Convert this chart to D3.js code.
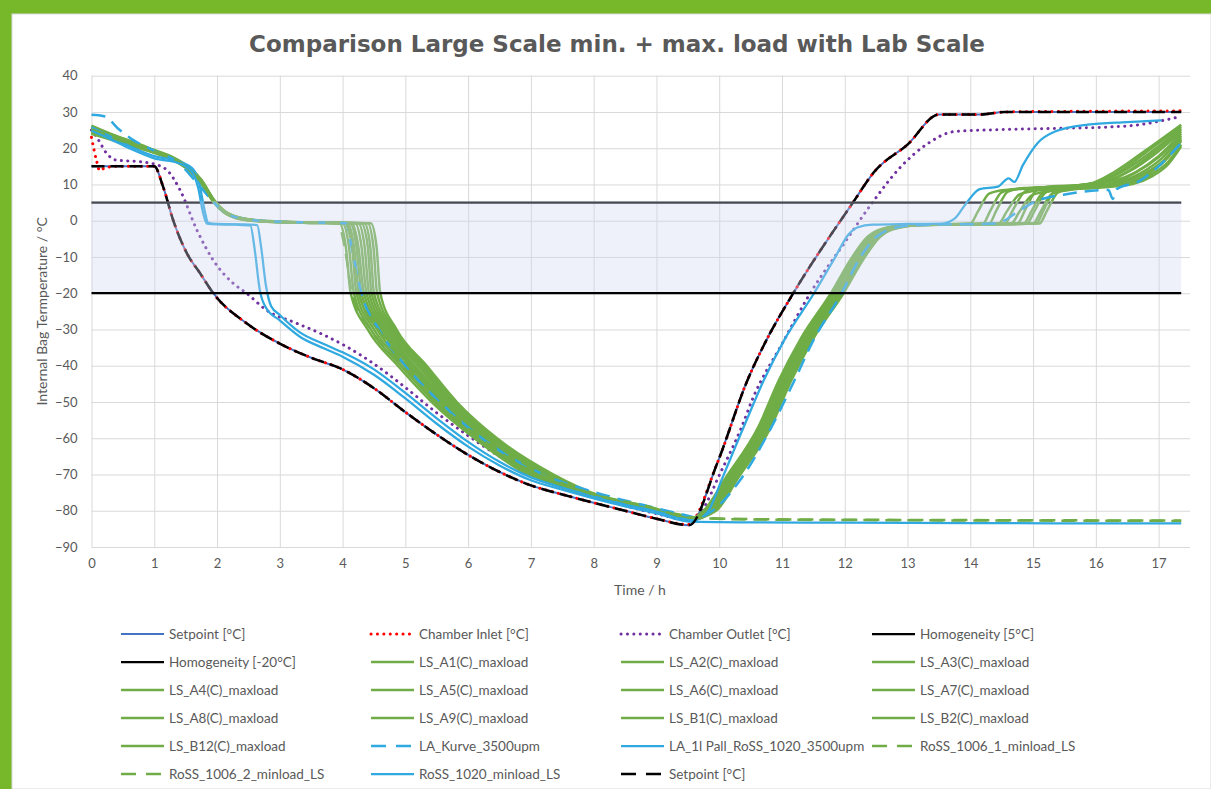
<!DOCTYPE html>
<html>
<head>
<meta charset="utf-8">
<script src="https://cdn.jsdelivr.net/npm/d3@7"></script>
<style>
  body { margin: 0; background: #76b82a; }
  svg { display: block; }
  text { font-family: Lato, "Open Sans", sans-serif; fill: #595959; }
</style>
</head>
<body>
<svg id="chart" width="1211" height="789"></svg>
<script>
// tick values
const xTicks = d3.range(0, 18);
const yTicks = d3.range(-90, 41, 10);

// time [h], temperature [°C]
const setpoint = [[0,15],[1.0,15],[1.14,9.4],[1.3,0.2],[1.52,-9],[1.73,-14.5],[1.94,-20],[2.47,-28.3],[3.0,-33.9],[3.5,-37.8],[4.0,-41],[4.5,-46.2],[5.0,-52.8],[5.5,-59],[6.0,-64.6],[6.5,-69.3],[7.0,-73],[7.5,-75.5],[8.0,-77.8],[8.5,-80],[9.0,-82.2],[9.52,-84],[9.97,-66.8],[10.45,-44],[10.75,-33],[11.18,-20],[12.13,5],[12.47,13.5],[13.0,21],[13.5,29.3],[14.15,29.3],[14.55,30],[16.0,30],[17.36,30]];
const chamberInlet = [[0,23],[0.08,16.6],[0.13,13.8],[0.18,14.3],[0.4,15],[1.0,15],[1.14,9.4],[1.3,0.2],[1.52,-9],[1.73,-14.5],[1.94,-20],[2.47,-28.3],[3.0,-33.9],[3.5,-37.8],[4.0,-41],[4.5,-46.2],[5.0,-52.8],[5.5,-59],[6.0,-64.6],[6.5,-69.3],[7.0,-73],[7.5,-75.5],[8.0,-77.8],[8.5,-80],[9.0,-82.2],[9.5,-83.8],[9.97,-66.8],[10.45,-44],[10.75,-33],[11.18,-20],[12.13,5],[12.47,13.5],[13.0,21],[13.5,29.3],[14.15,29.3],[14.55,30],[16.0,30.2],[17.36,30.3]];
const chamberOutlet = [[0,25],[0.11,22.3],[0.24,18.6],[0.4,16.7],[0.77,16.3],[1.09,15.1],[1.2,14],[1.41,8.5],[1.68,-2.6],[1.94,-10.9],[2.26,-17.3],[2.47,-20],[2.79,-24.7],[3.27,-28.3],[3.7,-31.5],[4.07,-34.8],[4.5,-39.5],[5.0,-46],[5.5,-53],[6.0,-59.3],[6.5,-65],[7.0,-69.5],[7.5,-73],[8.0,-76],[8.5,-78.6],[9.0,-80.8],[9.5,-82.5],[9.7,-80.5],[10.02,-69.5],[10.34,-57.6],[10.55,-48.4],[11.0,-34],[11.45,-20],[12.0,-6],[12.44,5],[12.9,15],[13.3,21],[13.75,24.6],[14.44,25.1],[15.5,25.5],[16.15,25.8],[16.7,26.5],[17.0,27.4],[17.36,28.8]];
const homog5 = [[0,5],[17.36,5]];
const homogMinus20 = [[0,-20],[17.36,-20]];

const lsA1 = [[0,25.5],[0.3,23.6],[0.7,21.2],[1.0,19.3],[1.3,17.3],[1.55,14.6],[1.75,11.0],[1.95,5.6],[2.1,2.8],[2.35,0.8],[2.8,-0.2],[3.5,-0.5],[3.95,-0.7],[4.05,-7],[4.13,-20],[4.40,-30],[4.88,-40],[5.42,-50],[6.10,-60],[6.95,-70],[7.8,-75.2],[8.8,-79.2],[9.5,-81.6],[9.58,-82],[9.75,-80],[10.1,-71],[10.62,-57],[10.95,-44],[11.3,-32.5],[11.78,-20],[12.12,-10],[12.36,-4.5],[12.6,-2.2],[13.0,-1.2],[14.0,-0.8],[14.12,2.5],[14.3,7.5],[14.55,8.5],[15.2,9.0],[15.9,10.2],[16.3,13.5],[16.8,19.5],[17.36,26.5]];
const lsA2 = [[0,25.0],[0.3,23.2],[0.7,20.9],[1.0,19.1],[1.3,17.0],[1.55,14.3],[1.75,10.6],[1.95,5.3],[2.1,2.6],[2.35,0.7],[2.8,-0.2],[3.5,-0.5],[4.0,-0.7],[4.1,-7],[4.18,-20],[4.45,-30],[4.93,-40],[5.47,-50],[6.15,-60],[7.0,-70],[7.85,-75.4],[8.85,-79.3],[9.5,-81.7],[9.6,-82],[9.78,-80],[10.13,-71],[10.65,-57],[10.98,-44],[11.33,-32.5],[11.81,-20],[12.15,-10],[12.39,-4.5],[12.63,-2.2],[13.05,-1.2],[14.2,-0.8],[14.32,2.8],[14.5,7.8],[14.75,8.8],[15.4,9.3],[16.0,10.5],[16.4,13.8],[16.85,19.5],[17.36,26]];
const lsA3 = [[0,26.0],[0.3,23.9],[0.7,21.4],[1.0,19.4],[1.3,17.4],[1.55,14.7],[1.75,11.2],[1.95,5.7],[2.1,2.9],[2.35,0.9],[2.8,-0.1],[3.5,-0.5],[4.05,-0.7],[4.15,-7],[4.22,-20],[4.50,-30],[4.98,-40],[5.50,-50],[6.18,-60],[7.05,-70],[7.9,-75.5],[8.9,-79.4],[9.5,-81.7],[9.6,-82],[9.8,-80],[10.15,-71],[10.67,-57],[11.0,-44],[11.35,-32.5],[11.83,-20],[12.17,-10],[12.41,-4.5],[12.65,-2.2],[13.05,-1.2],[14.3,-0.8],[14.42,3],[14.6,8],[14.85,9.0],[15.5,9.5],[16.05,10.6],[16.45,13.8],[16.9,19.2],[17.36,25.5]];
const lsA4 = [[0,24.5],[0.3,22.8],[0.7,20.6],[1.0,18.9],[1.3,16.9],[1.55,14.1],[1.75,10.4],[1.95,5.2],[2.1,2.5],[2.35,0.6],[2.8,-0.3],[3.5,-0.6],[4.08,-0.7],[4.18,-7],[4.26,-20],[4.55,-30],[5.02,-40],[5.55,-50],[6.22,-60],[7.08,-70],[7.92,-75.5],[8.9,-79.4],[9.5,-81.8],[9.6,-82],[9.81,-80],[10.16,-71],[10.68,-57],[11.01,-44],[11.36,-32.5],[11.84,-20],[12.18,-10],[12.42,-4.5],[12.66,-2.2],[13.1,-1.2],[14.45,-0.8],[14.58,2.5],[14.78,7.2],[15.0,8.2],[15.6,9.0],[16.1,10.2],[16.5,13.5],[16.92,18.8],[17.36,25]];
const lsA5 = [[0,25.8],[0.3,23.8],[0.7,21.3],[1.0,19.3],[1.3,17.2],[1.55,14.5],[1.75,10.9],[1.95,5.5],[2.1,2.8],[2.35,0.8],[2.8,-0.2],[3.5,-0.5],[4.12,-0.7],[4.22,-7],[4.30,-20],[4.60,-30],[5.07,-40],[5.58,-50],[6.25,-60],[7.12,-70],[7.95,-75.6],[8.92,-79.5],[9.5,-81.8],[9.6,-82],[9.83,-80],[10.18,-71],[10.7,-57],[11.03,-44],[11.38,-32.5],[11.86,-20],[12.2,-10],[12.44,-4.5],[12.68,-2.2],[13.1,-1.2],[14.55,-0.8],[14.68,3],[14.88,8.2],[15.1,9.2],[15.65,9.6],[16.15,10.8],[16.55,13.8],[16.95,18.5],[17.36,24.5]];
const lsA6 = [[0,24.2],[0.3,22.6],[0.7,20.5],[1.0,18.8],[1.3,16.8],[1.55,14.0],[1.75,10.3],[1.95,5.1],[2.1,2.5],[2.35,0.6],[2.8,-0.3],[3.5,-0.6],[4.15,-0.7],[4.25,-7],[4.34,-20],[4.64,-30],[5.11,-40],[5.62,-50],[6.28,-60],[7.15,-70],[7.98,-75.6],[8.95,-79.5],[9.5,-81.9],[9.6,-82],[9.85,-80],[10.2,-71],[10.72,-57],[11.05,-44],[11.4,-32.5],[11.88,-20],[12.22,-10],[12.46,-4.5],[12.7,-2.2],[13.1,-1.2],[14.65,-0.8],[14.78,2.4],[14.98,7],[15.2,8.0],[15.7,8.9],[16.2,10.0],[16.6,13],[17.0,17.8],[17.36,24]];
const lsA7 = [[0,25.2],[0.3,23.3],[0.7,21.0],[1.0,19.2],[1.3,17.1],[1.55,14.4],[1.75,10.7],[1.95,5.4],[2.1,2.7],[2.35,0.7],[2.8,-0.2],[3.5,-0.5],[4.2,-0.7],[4.3,-7],[4.38,-20],[4.68,-30],[5.15,-40],[5.66,-50],[6.32,-60],[7.2,-70],[8.0,-75.7],[8.97,-79.6],[9.5,-81.9],[9.6,-82],[9.86,-80],[10.21,-71],[10.73,-57],[11.06,-44],[11.41,-32.5],[11.89,-20],[12.23,-10],[12.47,-4.5],[12.71,-2.2],[13.15,-1.2],[14.75,-0.8],[14.88,3.2],[15.06,8.5],[15.3,9.5],[15.8,9.8],[16.25,10.8],[16.65,13.5],[17.0,17.5],[17.36,23.5]];
const lsA8 = [[0,26.2],[0.3,24.0],[0.7,21.5],[1.0,19.5],[1.3,17.5],[1.55,14.8],[1.75,11.3],[1.95,5.8],[2.1,3.0],[2.35,0.9],[2.8,-0.1],[3.5,-0.5],[4.25,-0.7],[4.35,-7],[4.42,-20],[4.72,-30],[5.20,-40],[5.70,-50],[6.35,-60],[7.23,-70],[8.02,-75.8],[8.98,-79.6],[9.5,-81.9],[9.6,-82],[9.88,-80],[10.23,-71],[10.75,-57],[11.08,-44],[11.43,-32.5],[11.91,-20],[12.25,-10],[12.49,-4.5],[12.73,-2.2],[13.15,-1.2],[14.85,-0.8],[14.98,2.8],[15.15,7.6],[15.4,8.6],[15.85,9.2],[16.3,10.3],[16.7,13],[17.05,17.2],[17.36,23]];
const lsA9 = [[0,24.8],[0.3,23.0],[0.7,20.8],[1.0,19.0],[1.3,17.0],[1.55,14.2],[1.75,10.5],[1.95,5.3],[2.1,2.6],[2.35,0.7],[2.8,-0.2],[3.5,-0.5],[4.3,-0.7],[4.4,-7],[4.46,-20],[4.76,-30],[5.24,-40],[5.73,-50],[6.38,-60],[7.27,-70],[8.05,-75.9],[9.0,-79.7],[9.5,-81.9],[9.6,-82],[9.89,-80],[10.24,-71],[10.76,-57],[11.09,-44],[11.44,-32.5],[11.92,-20],[12.26,-10],[12.5,-4.5],[12.74,-2.2],[13.2,-1.2],[14.9,-0.8],[15.02,2.6],[15.2,7.8],[15.45,9.0],[15.95,9.5],[16.4,10.5],[16.75,12.8],[17.1,17],[17.36,22.5]];
const lsB1 = [[0,25.4],[0.3,23.5],[0.7,21.1],[1.0,19.2],[1.3,17.2],[1.55,14.5],[1.75,10.8],[1.95,5.5],[2.1,2.7],[2.35,0.8],[2.8,-0.2],[3.5,-0.5],[4.35,-0.7],[4.44,-7],[4.50,-20],[4.80,-30],[5.28,-40],[5.76,-50],[6.41,-60],[7.3,-70],[8.08,-76],[9.02,-79.8],[9.5,-82],[9.6,-82.1],[9.9,-80],[10.25,-71],[10.77,-57],[11.1,-44],[11.45,-32.5],[11.93,-20],[12.27,-10],[12.51,-4.5],[12.75,-2.2],[13.2,-1.2],[15.0,-0.8],[15.12,2.5],[15.3,7.4],[15.55,8.4],[16.0,9.1],[16.45,10.2],[16.8,12.6],[17.1,16.5],[17.36,22]];
const lsB2 = [[0,24.0],[0.3,22.4],[0.7,20.3],[1.0,18.7],[1.3,16.7],[1.55,13.9],[1.75,10.2],[1.95,5.0],[2.1,2.4],[2.35,0.5],[2.8,-0.3],[3.5,-0.6],[4.4,-0.7],[4.49,-7],[4.55,-20],[4.83,-30],[5.31,-40],[5.79,-50],[6.44,-60],[7.33,-70],[8.1,-76],[9.04,-79.8],[9.5,-82],[9.6,-82.1],[9.92,-80],[10.27,-71],[10.79,-57],[11.12,-44],[11.47,-32.5],[11.95,-20],[12.29,-10],[12.53,-4.5],[12.77,-2.2],[13.25,-1.2],[15.05,-0.8],[15.17,3],[15.35,8.3],[15.6,9.3],[16.05,9.6],[16.5,10.4],[16.85,12.5],[17.15,16.2],[17.36,21]];
const lsB12 = [[0,25.6],[0.3,23.6],[0.7,21.2],[1.0,19.3],[1.3,17.3],[1.55,14.6],[1.75,11.0],[1.95,5.6],[2.1,2.8],[2.35,0.8],[2.8,-0.2],[3.5,-0.5],[4.45,-0.7],[4.54,-7],[4.60,-20],[4.86,-30],[5.34,-40],[5.82,-50],[6.46,-60],[7.36,-70],[8.12,-76],[9.05,-79.9],[9.5,-82],[9.6,-82.1],[9.95,-80],[10.3,-71],[10.82,-57],[11.15,-44],[11.5,-32.5],[11.98,-20],[12.32,-10],[12.56,-4.5],[12.8,-2.2],[13.25,-1.2],[15.1,-0.8],[15.22,2.7],[15.4,7.8],[15.65,8.8],[16.1,9.2],[16.6,10.2],[16.9,12.3],[17.15,15.5],[17.36,20.5]];

const laKurve = [[0,29.2],[0.2,28.8],[0.45,25],[0.66,22.3],[1.04,19],[1.36,16.3],[1.73,9.4],[1.94,5.2],[2.1,2.5],[2.4,0.6],[2.9,-0.2],[3.6,-0.5],[4.05,-0.7],[4.15,-8],[4.3,-20],[4.58,-30],[5.0,-40],[5.55,-50],[6.22,-60],[7.2,-70],[8.0,-74.8],[9.0,-79.3],[9.55,-81.6],[9.65,-82],[9.85,-80.5],[10.34,-71.4],[10.8,-58],[11.2,-44],[11.5,-33],[11.95,-20],[12.25,-10],[12.5,-4.5],[12.75,-2.2],[13.1,-1.2],[14.4,-0.8],[14.8,3],[15.0,5],[15.6,7.5],[16.2,8.5],[16.27,6.0],[16.33,8.7],[16.7,11],[17.0,15],[17.36,21.5]];
const laPall = [[0,25.8],[0.3,23.2],[0.6,20.6],[1.0,17.8],[1.4,16.3],[1.62,14.2],[1.72,10],[1.8,3],[1.86,-0.6],[2.0,-0.9],[2.4,-1],[2.64,-1.2],[2.7,-7],[2.78,-18],[2.86,-23.5],[3.0,-26],[3.32,-30.8],[3.7,-34],[4.0,-36.3],[4.5,-41],[5.0,-47.5],[5.5,-54.5],[6.0,-61],[6.5,-66.5],[7.0,-70.8],[7.5,-73.6],[8.0,-76],[8.5,-78.3],[9.0,-80.2],[9.52,-82.5],[9.6,-82.6],[9.81,-80.5],[10.05,-71],[10.23,-63.5],[10.4,-56.5],[10.71,-44],[11.04,-32.8],[11.51,-20],[11.85,-10],[12.05,-4],[12.21,-1.8],[12.44,-1.1],[13.0,-0.9],[13.53,-0.8],[13.75,0.6],[13.93,4.7],[14.15,8.7],[14.44,9.4],[14.61,11.7],[14.7,10.7],[14.84,15.4],[15.07,21.4],[15.35,24.6],[15.87,26.5],[16.5,27.2],[17.05,27.7]];
const ross1006a = [[0,24.5],[0.3,23],[0.7,20.8],[1.0,19],[1.3,17],[1.55,14.2],[1.75,10.6],[1.95,5.3],[2.1,2.6],[2.35,0.7],[2.8,-0.2],[3.5,-0.5],[3.93,-0.7],[4.03,-7],[4.15,-20],[4.45,-30],[4.95,-40],[5.5,-50],[6.2,-60],[7.1,-70],[7.9,-75],[8.9,-79],[9.52,-81.8],[10.5,-82.3],[12.5,-82.5],[14.5,-82.6],[17.36,-82.7]];
const ross1006b = [[0,25.2],[0.3,23.4],[0.7,21.0],[1.0,19.1],[1.3,17.1],[1.55,14.3],[1.75,10.7],[1.95,5.4],[2.1,2.7],[2.35,0.7],[2.8,-0.2],[3.5,-0.5],[4.05,-0.7],[4.15,-7],[4.26,-20],[4.56,-30],[5.05,-40],[5.6,-50],[6.3,-60],[7.2,-70],[7.95,-75.2],[8.95,-79.2],[9.52,-81.9],[10.5,-82.4],[12.5,-82.6],[14.5,-82.7],[17.36,-82.8]];
const ross1020 = [[0,24.8],[0.3,22.5],[0.6,20],[1.0,17.2],[1.4,15.8],[1.6,13.5],[1.7,9],[1.78,2],[1.84,-0.8],[2.0,-1],[2.3,-1.1],[2.53,-1.3],[2.6,-8],[2.68,-19],[2.78,-24],[3.0,-27.5],[3.32,-32],[3.7,-35.2],[4.0,-37.5],[4.5,-42.5],[5.0,-49],[5.5,-56],[6.0,-62.3],[6.5,-67.5],[7.0,-71.6],[7.5,-74.2],[8.0,-76.6],[8.5,-78.8],[9.0,-80.7],[9.52,-83],[10.5,-83.2],[12.0,-83.3],[14.0,-83.4],[16.0,-83.5],[17.36,-83.5]];

const GREEN = "#70ad47", BLUE = "#2fa9e0";
const DOT = "0.1 6.3", DASH = "14 8";

// legend order = drawing order
const series = [
  { name: "Setpoint [°C]", data: setpoint, color: "#4472c4", w: 2 },
  { name: "Chamber Inlet [°C]", data: chamberInlet, color: "#ff0000", w: 3, dash: DOT },
  { name: "Chamber Outlet [°C]", data: chamberOutlet, color: "#7030a0", w: 3, dash: DOT },
  { name: "Homogeneity [5°C]", data: homog5, color: "#000", w: 2.25 },
  { name: "Homogeneity [-20°C]", data: homogMinus20, color: "#000", w: 2.25, top: true },
  { name: "LS_A1(C)_maxload", data: lsA1, color: GREEN, w: 2.5 },
  { name: "LS_A2(C)_maxload", data: lsA2, color: GREEN, w: 2.5 },
  { name: "LS_A3(C)_maxload", data: lsA3, color: GREEN, w: 2.5 },
  { name: "LS_A4(C)_maxload", data: lsA4, color: GREEN, w: 2.5 },
  { name: "LS_A5(C)_maxload", data: lsA5, color: GREEN, w: 2.5 },
  { name: "LS_A6(C)_maxload", data: lsA6, color: GREEN, w: 2.5 },
  { name: "LS_A7(C)_maxload", data: lsA7, color: GREEN, w: 2.5 },
  { name: "LS_A8(C)_maxload", data: lsA8, color: GREEN, w: 2.5 },
  { name: "LS_A9(C)_maxload", data: lsA9, color: GREEN, w: 2.5 },
  { name: "LS_B1(C)_maxload", data: lsB1, color: GREEN, w: 2.5 },
  { name: "LS_B2(C)_maxload", data: lsB2, color: GREEN, w: 2.5 },
  { name: "LS_B12(C)_maxload", data: lsB12, color: GREEN, w: 2.5 },
  { name: "LA_Kurve_3500upm", data: laKurve, color: BLUE, w: 2.5, dash: DASH },
  { name: "LA_1l Pall_RoSS_1020_3500upm", data: laPall, color: BLUE, w: 2.25 },
  { name: "RoSS_1006_1_minload_LS", data: ross1006a, color: GREEN, w: 2.5, dash: DASH },
  { name: "RoSS_1006_2_minload_LS", data: ross1006b, color: GREEN, w: 2.5, dash: DASH },
  { name: "RoSS_1020_minload_LS", data: ross1020, color: BLUE, w: 2.25 },
  { name: "Setpoint [°C]", data: setpoint, color: "#000", w: 2.5, dash: "13 6" }
];

const svg = d3.select("#chart");
svg.append("rect").attr("width", 1211).attr("height", 789).attr("fill", "#76b82a");
svg.append("rect").attr("x", 12).attr("y", 14).attr("width", 1199).attr("height", 775)
  .attr("fill", "#fff").attr("stroke", "#d9d9d9");

const x = d3.scaleLinear().domain([0, 17.5]).range([91.5, 1190]);
const y = d3.scaleLinear().domain([-90, 40]).range([547, 75.7]);

// grid + axes
const yAxis = svg.append("g").attr("transform", `translate(${x(0)},0)`)
  .call(d3.axisLeft(y).tickValues(yTicks).tickSize(-(x(17.5) - x(0))).tickPadding(14));
const xAxis = svg.append("g").attr("transform", `translate(0,${y(-90)})`)
  .call(d3.axisBottom(x).tickValues(xTicks).tickSize(-(y(-90) - y(40))).tickPadding(12));
[xAxis, yAxis].forEach(a => {
  a.select(".domain").remove();
  a.selectAll(".tick line").attr("stroke", "#d9d9d9");
  a.selectAll(".tick text").attr("fill", "#595959").style("font-size", "13px")
    .style("font-family", "Lato, 'Open Sans', sans-serif");
});

const line = d3.line().x(d => x(d[0])).y(d => y(d[1])).curve(d3.curveMonotoneX);

const drawSeries = s => {
  svg.append("path").attr("d", line(s.data)).attr("fill", "none")
    .attr("stroke", s.color).attr("stroke-width", s.w)
    .attr("stroke-dasharray", s.dash || null)
    .attr("stroke-linecap", s.dash === DOT ? "round" : "butt")
    .attr("stroke-linejoin", "round");
};
series.filter(s => !s.top).forEach(drawSeries);

// translucent homogeneity band laid over the curves
svg.append("rect").attr("x", x(0)).attr("y", y(5) - 1.5)
  .attr("width", x(17.36) - x(0)).attr("height", y(-20) - y(5) + 1.5)
  .attr("fill", "rgb(206,215,241)").attr("fill-opacity", 0.35);
series.filter(s => s.top).forEach(drawSeries);

// title + axis titles
svg.append("text").attr("x", 617).attr("y", 52).attr("text-anchor", "middle")
  .style("font-family", "'DejaVu Sans', Verdana, sans-serif").style("font-weight", "bold")
  .style("font-size", "23px").text("Comparison Large Scale min. + max. load with Lab Scale");
svg.append("text").attr("x", 640).attr("y", 595).attr("text-anchor", "middle")
  .style("font-size", "14px").text("Time / h");
svg.append("text").attr("transform", `translate(47,${(y(40) + y(-90)) / 2}) rotate(-90)`)
  .attr("text-anchor", "middle").style("font-size", "14px")
  .text("Internal Bag Termperature / °C");

// legend, 4 columns
const legCols = [121, 371, 621, 872];
const legRow0 = 634, legRowH = 28;
const leg = svg.append("g");
series.forEach((s, i) => {
  const lx = legCols[i % 4], ly = legRow0 + Math.floor(i / 4) * legRowH;
  leg.append("line").attr("x1", lx).attr("x2", lx + 43).attr("y1", ly).attr("y2", ly)
    .attr("stroke", s.color).attr("stroke-width", s.w)
    .attr("stroke-dasharray", s.dash === DOT ? DOT : (s.dash ? "15 10" : null))
    .attr("stroke-linecap", s.dash === DOT ? "round" : "butt");
  leg.append("text").attr("x", lx + 48).attr("y", ly + 4.5)
    .style("font-size", "13.5px").text(s.name);
});
</script>
</body>
</html>
